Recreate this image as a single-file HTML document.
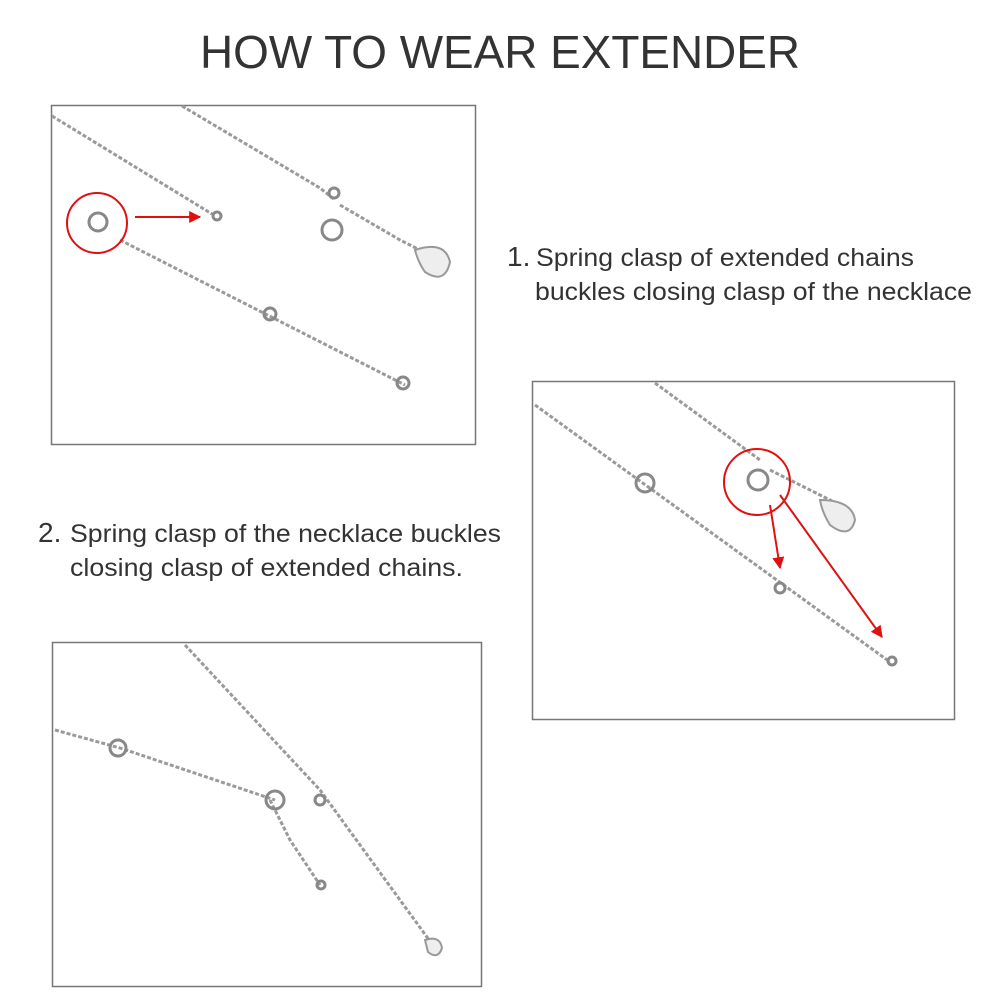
<!DOCTYPE html>
<html><head><style>
body{margin:0;background:#fff;width:1000px;height:1000px;overflow:hidden;font-family:"Liberation Sans",sans-serif}
</style></head><body>
<svg width="1000" height="1000" xmlns="http://www.w3.org/2000/svg">
<defs>
<marker id="ah" viewBox="0 0 10 10" refX="9" refY="5" markerWidth="6" markerHeight="6" orient="auto"><path d="M0,0 L10,5 L0,10 Z" fill="#e01010"/></marker>
</defs>
<text x="500" y="68" text-anchor="middle" font-size="46" fill="#333" font-family="Liberation Sans, sans-serif" textLength="600" lengthAdjust="spacingAndGlyphs">HOW TO WEAR EXTENDER</text>

<g fill="none" stroke="#777" stroke-width="1.5">
<rect x="51.5" y="105.5" width="424" height="339"/>
<rect x="532.5" y="381.5" width="422" height="338"/>
<rect x="52.5" y="642.5" width="429" height="344"/>
</g>

<g fill="none" stroke="#9a9a9a" stroke-width="3" stroke-dasharray="4 2">
<path d="M52,116 L212,214"/>
<path d="M182,106 L320,188 L335,200"/>
<path d="M340,205 L400,240 L420,250"/>
<path d="M120,240 L405,385"/>
<path d="M535,405 L890,662"/>
<path d="M655,383 L760,460"/>
<path d="M770,470 L820,495 L840,505"/>
<path d="M55,730 L120,748 L275,800"/>
<path d="M185,645 L320,790 L440,955"/>
<path d="M270,800 L290,840 L320,885"/>
</g>
<g fill="none" stroke="#888" stroke-width="3">
<circle cx="98" cy="222" r="9"/>
<circle cx="217" cy="216" r="4"/>
<circle cx="270" cy="314" r="6"/>
<circle cx="403" cy="383" r="6"/>
<circle cx="332" cy="230" r="10"/>
<circle cx="334" cy="193" r="5"/>
<circle cx="645" cy="483" r="9"/>
<circle cx="758" cy="480" r="10"/>
<circle cx="780" cy="588" r="5"/>
<circle cx="892" cy="661" r="4"/>
<circle cx="118" cy="748" r="8"/>
<circle cx="275" cy="800" r="9"/>
<circle cx="320" cy="800" r="5"/>
<circle cx="321" cy="885" r="4"/>
</g>
<g fill="#eee" stroke="#999" stroke-width="2">
<path d="M415,250 Q445,240 450,262 Q445,285 425,272 Q418,262 415,250Z"/>
<path d="M820,500 Q852,500 855,520 Q850,540 830,525 Q822,512 820,500Z"/>
<path d="M425,940 Q440,935 442,948 Q438,960 428,952Z"/>
</g>

<g fill="none" stroke="#e01010" stroke-width="2">
<circle cx="97" cy="223" r="30"/>
<circle cx="757" cy="482" r="33"/>
<line x1="135" y1="217" x2="200" y2="217" marker-end="url(#ah)"/>
<line x1="770" y1="505" x2="780" y2="568" marker-end="url(#ah)"/>
<line x1="780" y1="495" x2="882" y2="637" marker-end="url(#ah)"/>
</g>

<g font-size="25" fill="#333" font-family="Liberation Sans, sans-serif" lengthAdjust="spacingAndGlyphs">
<text x="507" y="266" font-size="28">1.</text>
<text x="536" y="266" textLength="378" lengthAdjust="spacingAndGlyphs">Spring clasp of extended chains</text>
<text x="535" y="300" textLength="437" lengthAdjust="spacingAndGlyphs">buckles closing clasp of the necklace</text>
<text x="38" y="542" font-size="28">2.</text>
<text x="70" y="542" textLength="431" lengthAdjust="spacingAndGlyphs">Spring clasp of the necklace buckles</text>
<text x="70" y="576" textLength="393" lengthAdjust="spacingAndGlyphs">closing clasp of extended chains.</text>
</g>
</svg>
</body></html>
